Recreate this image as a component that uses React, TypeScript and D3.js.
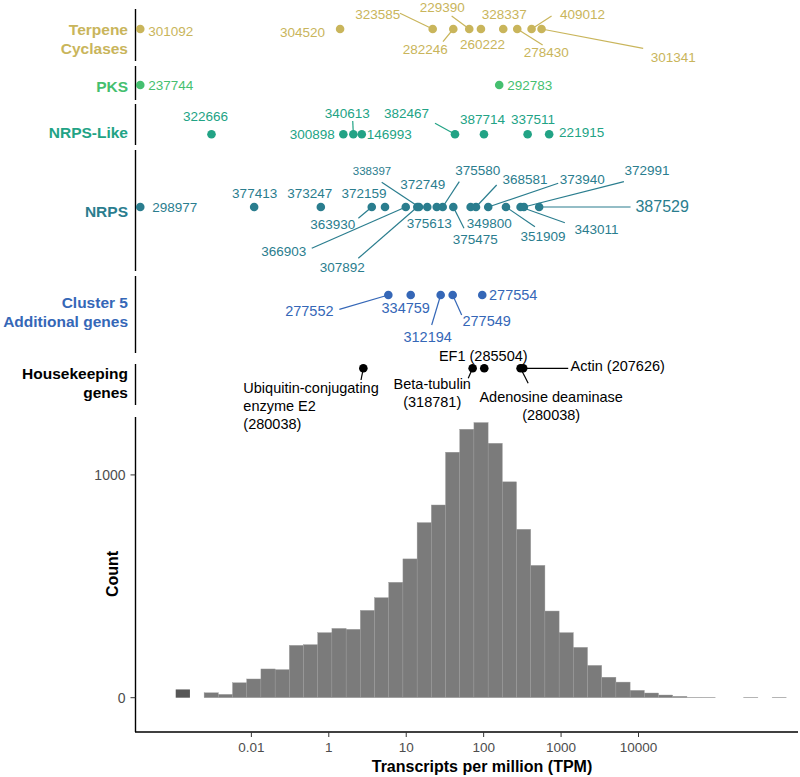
import React from "react";
import * as d3 from "d3";

// ---------------- data ----------------
// x values are in axis units (log10 TPM position on the plotted axis)
const xTickValues = [-1, 0, 1, 2, 3, 4];
const xTickLabels = ["0.01", "1", "10", "100", "1000", "10000"];
const yTickValues = [0, 1000];
const yTickLabels = ["0", "1000"];

const histBinStart = -1.977;
const histBinWidth = 0.1834;
const histCounts = [
  0, 0, 22, 15, 67, 84, 129, 126, 235, 238, 292, 311, 307, 392, 449, 518, 623,
  786, 865, 1102, 1205, 1235, 1142, 969, 756, 594, 389, 292, 226, 145, 92, 70,
  33, 21, 12, 6, 2, 2, 0, 0, 2, 0, 2,
];
const zeroTpmCount = [37];

const groupNames = [
  "Terpene\nCyclases",
  "PKS",
  "NRPS-Like",
  "NRPS",
  "Cluster 5\nAdditional genes",
  "Housekeeping\ngenes",
];
const groupColors = ["#c9b55b", "#45bf6f", "#22a385", "#2a7d8e", "#3567b7", "#000000"];

const terpeneIds = ["301092", "304520", "323585", "282246", "229390", "260222", "328337", "278430", "409012", "301341"];
const terpeneX = [-2.435, 0.146, 1.342, 1.608, 1.814, 1.965, 2.253, 2.434, 2.619, 2.748];

const pksIds = ["237744", "292783"];
const pksX = [-2.435, 2.201];

const nrpsLikeIds = ["322666", "300898", "340613", "146993", "382467", "387714", "337511", "221915"];
const nrpsLikeX = [-1.515, 0.188, 0.317, 0.426, 1.63, 2.004, 2.568, 2.846];

const nrpsIds = [
  "298977", "377413", "373247", "363930", "372159", "366903", "307892", "338397", "375613", "372749",
  "375580", "375475", "349800", "368581", "373940", "351909", "343011", "372991", "387529",
];
const nrpsX = [
  -2.435, -0.964, -0.103, 0.555, 0.726, 0.994, 1.143, 1.165, 1.272, 1.394,
  1.471, 1.608, 1.832, 1.901, 2.059, 2.288, 2.477, 2.52, 2.717,
];

const cluster5Ids = ["277552", "334759", "312194", "277549", "277554"];
const cluster5X = [0.769, 1.058, 1.445, 1.6, 1.982];

const housekeepingIds = [
  "Ubiquitin-conjugating\nenzyme E2\n(280038)",
  "Beta-tubulin\n(318781)",
  "EF1 (285504)",
  "Adenosine deaminase\n(280038)",
  "Actin (207626)",
];
const housekeepingX = [0.446, 1.858, 2.008, 2.477, 2.511];

const groupIds = [terpeneIds, pksIds, nrpsLikeIds, nrpsIds, cluster5Ids, housekeepingIds];
const groupX = [terpeneX, pksX, nrpsLikeX, nrpsX, cluster5X, housekeepingX];

// ---------------- layout ----------------
const W = 800;
const H = 777;
const axisX = 135.5;
const panelLayout = [
  { top: 9, bottom: 61, dotY: 29, titleY: 39, fs: 13.5 },
  { top: 66, bottom: 100, dotY: 85, titleY: 86, fs: 13.5 },
  { top: 104, bottom: 145, dotY: 134.3, titleY: 132, fs: 13.5 },
  { top: 150, bottom: 271, dotY: 207, titleY: 211.5, fs: 13.5 },
  { top: 276, bottom: 353, dotY: 295, titleY: 312, fs: 14.5 },
  { top: 364, bottom: 405, dotY: 368.3, titleY: 383.3, fs: 14.5 },
];
const histTop = 417;
const histBottom = 732;

// label offsets relative to the point: [dx, dy] label centre, optional segment end [sx, sy]
type LL = { dx: number; dy: number; s?: [number, number]; fs?: number; align?: "start" | "middle" };
const labelLayout: Record<string, LL> = {
  "301092": { dx: 30.5, dy: 2 },
  "304520": { dx: -37.5, dy: 3 },
  "323585": { dx: -55, dy: -15, s: [-32.7, -15.7] },
  "282246": { dx: -28, dy: 20, s: [-10.3, 12.7] },
  "229390": { dx: -27, dy: -22, s: [-17.6, -13] },
  "260222": { dx: 1.5, dy: 15 },
  "328337": { dx: 1, dy: -15 },
  "278430": { dx: 29, dy: 23, s: [25.4, 16] },
  "409012": { dx: 51, dy: -15, s: [20, -13] },
  "301341": { dx: 131.6, dy: 28.3, s: [101.6, 19.3] },

  "237744": { dx: 30.5, dy: 0 },
  "292783": { dx: 30.5, dy: 0 },

  "322666": { dx: -6, dy: -18 },
  "300898": { dx: -31, dy: 0 },
  "340613": { dx: -6, dy: -21, s: [-0.6, -13.3] },
  "146993": { dx: 27.5, dy: 0 },
  "382467": { dx: -48.5, dy: -21, s: [-20, -11] },
  "387714": { dx: -1.5, dy: -15 },
  "337511": { dx: 5.3, dy: -15 },
  "221915": { dx: 32.5, dy: -2 },

  "298977": { dx: 34.5, dy: 0 },
  "377413": { dx: 0.5, dy: -14 },
  "373247": { dx: -11, dy: -14 },
  "363930": { dx: -39, dy: 17, s: [-13.4, 11.3] },
  "372159": { dx: -21, dy: -14 },
  "366903": { dx: -122, dy: 44, s: [-94, 41.3] },
  "307892": { dx: -75, dy: 60, s: [-59, 51.3] },
  "338397": { dx: -47, dy: -36, s: [-37.3, -24.7], fs: 11.5 },
  "375613": { dx: 2, dy: 16 },
  "372749": { dx: -14, dy: -23 },
  "375580": { dx: 35, dy: -37, s: [16.6, -25.3] },
  "375475": { dx: 22, dy: 32, s: [10.7, 21.3] },
  "349800": { dx: 18.6, dy: 16 },
  "368581": { dx: 49, dy: -28, s: [20.7, -22] },
  "373940": { dx: 94, dy: -28, s: [70, -23.7] },
  "351909": { dx: 37, dy: 29, s: [29, 19.7] },
  "343011": { dx: 76, dy: 22, s: [44.3, 15.7] },
  "372991": { dx: 123, dy: -37, s: [100, -25.3] },
  "387529": { dx: 123, dy: -1, s: [91.4, 0], fs: 16 },

  "277552": { dx: -79, dy: 16, s: [-49, 14.3] },
  "334759": { dx: -5, dy: 13 },
  "312194": { dx: -13, dy: 42, s: [-9, 30] },
  "277549": { dx: 34, dy: 26, s: [9, 20] },
  "277554": { dx: 31, dy: 0 },

  "Ubiquitin-conjugating\nenzyme E2\n(280038)": { dx: -120, dy: 38, s: [-2.3, 11.7], align: "start" },
  "Beta-tubulin\n(318781)": { dx: -40.4, dy: 24.5, s: [-4.4, 10] },
  "EF1 (285504)": { dx: -1, dy: -12 },
  "Adenosine deaminase\n(280038)": { dx: 30.6, dy: 37.5, s: [7.6, 15] },
  "Actin (207626)": { dx: 94.5, dy: -2, s: [45, 0] },
};

const FONT = "'Liberation Sans', Arial, Helvetica, sans-serif";

export default function App() {
  const x = d3.scaleLinear().domain([-2.49, 6.06]).range([136, 798]);
  const y = d3.scaleLinear().domain([-154, 1260]).range([histBottom, histTop]);

  const bins = histCounts.map((c, i) => ({
    x0: histBinStart + i * histBinWidth,
    x1: histBinStart + (i + 1) * histBinWidth,
    c,
  }));

  return (
    <svg
      width={W}
      height={H}
      style={{ position: "absolute", left: 0, top: 0, background: "#fff" }}
      fontFamily={FONT}
    >
      {/* strip panels */}
      {groupNames.map((name, gi) => {
        const pl = panelLayout[gi];
        const color = groupColors[gi];
        const lines = name.split("\n");
        const lh = 19;
        return (
          <g key={name}>
            <line x1={axisX} x2={axisX} y1={pl.top} y2={pl.bottom} stroke="#000" strokeWidth={1.4} />
            <text
              x={128}
              textAnchor="end"
              fontWeight="bold"
              fontSize={15.5}
              fill={color}
            >
              {lines.map((ln, li) => (
                <tspan
                  key={li}
                  x={128}
                  y={pl.titleY + (li - (lines.length - 1) / 2) * lh}
                  dominantBaseline="central"
                >
                  {ln}
                </tspan>
              ))}
            </text>
            {groupIds[gi].map((id, k) => {
              const px = x(groupX[gi][k]);
              const py = pl.dotY;
              const L = labelLayout[id];
              if (!L || !L.s) return null;
              return (
                <line
                  key={"s" + id}
                  x1={px}
                  y1={py}
                  x2={px + L.s[0]}
                  y2={py + L.s[1]}
                  stroke={color}
                  strokeWidth={1.2}
                />
              );
            })}
            {groupIds[gi].map((id, k) => (
              <circle key={"c" + id} cx={x(groupX[gi][k])} cy={pl.dotY} r={4.3} fill={color} />
            ))}
            {groupIds[gi].map((id, k) => {
              const px = x(groupX[gi][k]);
              const py = pl.dotY;
              const L = labelLayout[id];
              const fs = L.fs ?? pl.fs;
              const tl = id.split("\n");
              const lh2 = 18;
              const align = L.align ?? "middle";
              return (
                <text key={"t" + id} fontSize={fs} fill={color} textAnchor={align}>
                  {tl.map((ln, li) => (
                    <tspan
                      key={li}
                      x={px + L.dx}
                      y={py + L.dy + (li - (tl.length - 1) / 2) * lh2}
                      dominantBaseline="central"
                    >
                      {ln}
                    </tspan>
                  ))}
                </text>
              );
            })}
          </g>
        );
      })}

      {/* histogram */}
      <g>
        {bins
          .filter((b) => b.c > 0)
          .map((b, i) => (
            <rect
              key={i}
              x={x(b.x0)}
              width={x(b.x1) - x(b.x0)}
              y={y(b.c)}
              height={y(0) - y(b.c)}
              fill="#7b7b7b"
              stroke="#9c9c9c"
              strokeWidth={0.4}
            />
          ))}
        {zeroTpmCount.map((c, i) => (
          <rect
            key={"z" + i}
            x={x(bins[i].x0)}
            width={x(bins[i].x1) - x(bins[i].x0)}
            y={y(c)}
            height={y(0) - y(c)}
            fill="#565656"
          />
        ))}
        {/* y axis */}
        <line x1={axisX} x2={axisX} y1={histTop} y2={histBottom} stroke="#000" strokeWidth={1.4} />
        {yTickValues.map((v, i) => (
          <g key={v}>
            <line x1={axisX - 5} x2={axisX} y1={y(v)} y2={y(v)} stroke="#333" strokeWidth={1} />
            <text
              x={axisX - 10}
              y={y(v)}
              textAnchor="end"
              dominantBaseline="central"
              fontSize={14}
              fill="#4d4d4d"
            >
              {yTickLabels[i]}
            </text>
          </g>
        ))}
        <text
          transform={`translate(${112},${574}) rotate(-90)`}
          textAnchor="middle"
          dominantBaseline="central"
          fontWeight="bold"
          fontSize={16}
          fill="#000"
        >
          Count
        </text>
        {/* x axis */}
        <line x1={135} x2={798} y1={histBottom} y2={histBottom} stroke="#000" strokeWidth={1.4} />
        {xTickValues.map((v, i) => (
          <g key={v}>
            <line x1={x(v)} x2={x(v)} y1={histBottom} y2={histBottom + 5} stroke="#333" strokeWidth={1} />
            <text
              x={x(v)}
              y={histBottom + 15}
              textAnchor="middle"
              dominantBaseline="central"
              fontSize={13.5}
              fill="#4d4d4d"
            >
              {xTickLabels[i]}
            </text>
          </g>
        ))}
        <text
          x={482}
          y={766}
          textAnchor="middle"
          dominantBaseline="central"
          fontWeight="bold"
          fontSize={16}
          fill="#000"
        >
          Transcripts per million (TPM)
        </text>
      </g>
    </svg>
  );
}
